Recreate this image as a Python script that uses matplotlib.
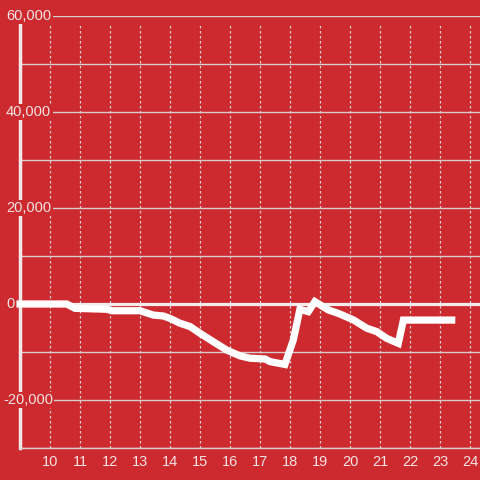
import matplotlib
matplotlib.use("Agg")
import matplotlib.pyplot as plt
from matplotlib.ticker import MultipleLocator
from matplotlib.transforms import blended_transform_factory, offset_copy

# hour of day vs. running value
hours = [9.0, 10.56, 10.83, 11.89, 12.06, 13.0, 13.44, 13.78, 14.0, 14.33,
         14.67, 15.0, 15.44, 15.89, 16.33, 16.67, 17.17, 17.33, 17.83, 18.11,
         18.33, 18.61, 18.83, 19.28, 19.61, 20.11, 20.56, 20.89, 21.22, 21.61,
         21.78, 23.39]
values = [0, 0, -900, -1100, -1400, -1400, -2300, -2500, -3000, -4000,
          -4700, -6100, -7850, -9600, -10800, -11300, -11450, -12000, -12600, -7500,
          -1100, -1600, 500, -1250, -1950, -3300, -5050, -5750, -7150, -8200,
          -3350, -3350]

x_ticks = list(range(10, 25))
y_ticks = [-20000, 0, 20000, 40000, 60000]

bg = "#cc2a2f"
txt = "#f3e3e3"
grid = "#d9cccc"

plt.rcParams['font.family'] = ['Liberation Sans', 'DejaVu Sans']

fig = plt.figure(figsize=(4.8, 4.8), dpi=100, facecolor=bg)
ax = fig.add_axes([20 / 480, 32 / 480, 460 / 480, 432 / 480])
ax.set_facecolor(bg)

ax.set_xlim(9, 24.333)
ax.set_ylim(-30000, 60000)

# horizontal grid
ax.yaxis.set_major_locator(MultipleLocator(20000))
ax.yaxis.set_minor_locator(MultipleLocator(10000))
ax.grid(axis='y', which='both', color=grid, linewidth=1)
ax.set_axisbelow(True)
ax.set_yticklabels([])

# dotted hour lines
ax.vlines(x_ticks, -30000, 58300, colors=grid, linestyles=(0, (2, 2)), linewidth=0.9, zorder=1)

# zero line
ax.axhline(0, color="#f4ecec", linewidth=2.3, zorder=2)

ax.plot(hours, values, color="white", linewidth=5.2, solid_joinstyle='miter',
        solid_capstyle='projecting', clip_on=False, zorder=3)

# y labels sit over the axis line, with a background patch
base = blended_transform_factory(ax.transAxes, ax.transData)
for v in y_ticks:
    shift = -17 if v < 0 else -14
    trans = offset_copy(base, fig=fig, x=shift, y=0, units='dots')
    ax.text(0, v, f"{v:,}", transform=trans, ha='left', va='center',
            color=txt, fontsize=10.5, zorder=2.8, clip_on=False,
            bbox=dict(facecolor=bg, edgecolor='none', pad=1))

ax.set_xticks(x_ticks)
ax.tick_params(axis='both', which='both', length=0, colors=txt, labelsize=10.5)
ax.tick_params(axis='x', pad=5)

for s in ['top', 'right']:
    ax.spines[s].set_visible(False)
ax.spines['left'].set_color("#f2e8e8")
ax.spines['left'].set_linewidth(2.5)
ax.spines['left'].set_bounds(-30000, 58300)
ax.spines['left'].set_zorder(1.5)
ax.spines['bottom'].set_color(grid)
ax.spines['bottom'].set_linewidth(1)

fig.savefig("out.png", dpi=100, facecolor=bg)
